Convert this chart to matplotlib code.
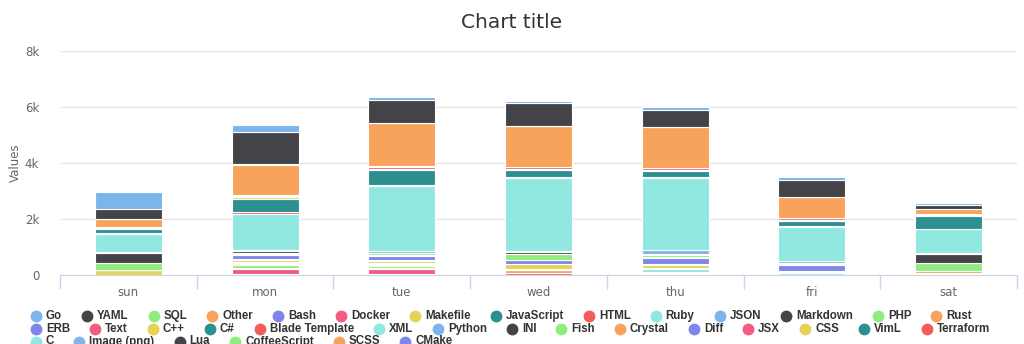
import matplotlib
matplotlib.use('Agg')
import matplotlib.pyplot as plt
from matplotlib.lines import Line2D
import numpy as np

days = ['sun', 'mon', 'tue', 'wed', 'thu', 'fri', 'sat']

# one list per language, values per day (sun..sat)
go = [620, 250, 110, 80, 90, 120, 60]
yaml = [360, 1130, 840, 820, 625, 610, 155]
sql = [0, 40, 0, 0, 0, 0, 0]
other = [280, 1070, 1520, 1460, 1435, 730, 180]
bash = [0, 40, 40, 0, 0, 0, 0]
docker = [40, 50, 60, 70, 80, 70, 30]
makefile = [40, 50, 60, 30, 30, 30, 30]
javascript = [150, 460, 540, 260, 225, 195, 445]
html = [30, 80, 30, 30, 30, 30, 30]
ruby = [650, 1270, 2310, 2590, 2580, 1230, 850]
json = [40, 50, 60, 60, 130, 70, 30]
markdown = [340, 70, 30, 60, 50, 30, 315]
php = [260, 40, 70, 200, 60, 0, 300]
rust = [0, 30, 30, 30, 30, 30, 55]
erb = [0, 160, 130, 110, 240, 220, 55]
text = [0, 40, 40, 30, 30, 30, 25]
cpp = [170, 50, 60, 160, 110, 30, 0]
csharp = [0, 0, 0, 0, 0, 0, 0]
blade = [0, 0, 0, 0, 30, 0, 0]
xml = [0, 30, 40, 0, 110, 80, 0]
python = [0, 60, 50, 30, 0, 0, 0]
ini = [0, 40, 30, 0, 30, 0, 0]
fish = [0, 90, 60, 20, 30, 0, 0]
crystal = [0, 0, 40, 110, 40, 0, 0]
diff = [0, 30, 0, 0, 0, 0, 0]
jsx = [0, 180, 180, 60, 0, 0, 0]
css = [0, 40, 40, 0, 0, 0, 0]
viml = [0, 0, 0, 0, 0, 0, 0]
terraform = [0, 0, 0, 0, 0, 0, 0]
c_lang = [0, 0, 0, 0, 0, 0, 0]
image_png = [0, 0, 0, 0, 0, 0, 0]
lua = [0, 0, 0, 0, 0, 0, 0]
coffeescript = [0, 0, 0, 0, 0, 0, 0]
scss = [0, 0, 0, 0, 0, 0, 0]
cmake = [0, 0, 0, 0, 0, 0, 0]

series = [
    ('Go', go), ('YAML', yaml), ('SQL', sql), ('Other', other), ('Bash', bash),
    ('Docker', docker), ('Makefile', makefile), ('JavaScript', javascript),
    ('HTML', html), ('Ruby', ruby), ('JSON', json), ('Markdown', markdown),
    ('PHP', php), ('Rust', rust), ('ERB', erb), ('Text', text), ('C++', cpp),
    ('C#', csharp), ('Blade Template', blade), ('XML', xml), ('Python', python),
    ('INI', ini), ('Fish', fish), ('Crystal', crystal), ('Diff', diff),
    ('JSX', jsx), ('CSS', css), ('VimL', viml), ('Terraform', terraform),
    ('C', c_lang), ('Image (png)', image_png), ('Lua', lua),
    ('CoffeeScript', coffeescript), ('SCSS', scss), ('CMake', cmake),
]
legend_rows = [14, 15, 6]

palette = ['#7cb5ec', '#434348', '#90ed7d', '#f7a35c', '#8085e9',
           '#f15c80', '#e4d354', '#2b908f', '#f45b5b', '#91e8e1']

W, H = 1024, 344


def draw_bars(ax):
    x = np.arange(len(days))
    bottom = np.zeros(len(days))
    # first series sits on top of the stack, so stack in reverse
    for i in range(len(series) - 1, -1, -1):
        name, vals = series[i]
        vals = np.asarray(vals, dtype=float)
        ax.bar(x, vals, 0.49, bottom=bottom, color=palette[i % 10],
               edgecolor='white', linewidth=0.8, zorder=3)
        bottom = bottom + vals


def style_axes(ax):
    ax.set_xlim(-0.5, len(days) - 0.5)
    ax.set_ylim(0, 8000)
    ax.set_yticks([0, 2000, 4000, 6000, 8000])
    ax.set_yticklabels(['0', '2k', '4k', '6k', '8k'])
    ax.set_xticks(np.arange(len(days)))
    ax.set_xticklabels(days)
    ax.set_xticks(np.arange(len(days) + 1) - 0.5, minor=True)
    ax.tick_params(axis='x', which='major', length=0, pad=8, labelsize=8.5, labelcolor='#666666')
    ax.tick_params(axis='x', which='minor', length=10, color='#ccd6eb', width=1)
    ax.tick_params(axis='y', length=0, pad=15, labelsize=8.5, labelcolor='#666666')
    ax.grid(axis='y', color='#e6e6e6', linewidth=1, zorder=0)
    for s in ['top', 'right', 'left']:
        ax.spines[s].set_visible(False)
    ax.spines['bottom'].set_color('#ccd6eb')
    ax.set_ylabel('Values', color='#666666', fontsize=8.5)
    ax.yaxis.set_label_coords((22 - 60) / 957, 0.5)


def draw_legend(fig):
    renderer = fig.canvas.get_renderer()
    row_y = [316, 328.7, 341.5]
    idx = 0
    for r, n in enumerate(legend_rows):
        xc = 36
        y = 1 - row_y[r] / H
        for k in range(n):
            name = series[idx][0]
            fig.add_artist(Line2D([xc / W], [y], marker='o', markersize=7.5,
                                  color=palette[idx % 10], transform=fig.transFigure))
            t = fig.text((xc + 10) / W, y, name, fontsize=8.3, fontweight='bold',
                         family='Liberation Sans', color='#333333', va='center', ha='left')
            w = t.get_window_extent(renderer).width
            xc = xc + 10 + w + 25
            idx += 1


def main():
    fig = plt.figure(figsize=(W / 100, H / 100), dpi=100)
    ax = fig.add_axes([60 / W, 69 / H, 957 / W, 224 / H])
    draw_bars(ax)
    style_axes(ax)
    fig.text(0.5, 1 - 22 / H, 'Chart title', ha='center', va='center',
             fontsize=14.5, color='#333333')
    draw_legend(fig)
    fig.savefig('out.png', dpi=100)
    plt.close()


if __name__ == "__main__":
    main()
